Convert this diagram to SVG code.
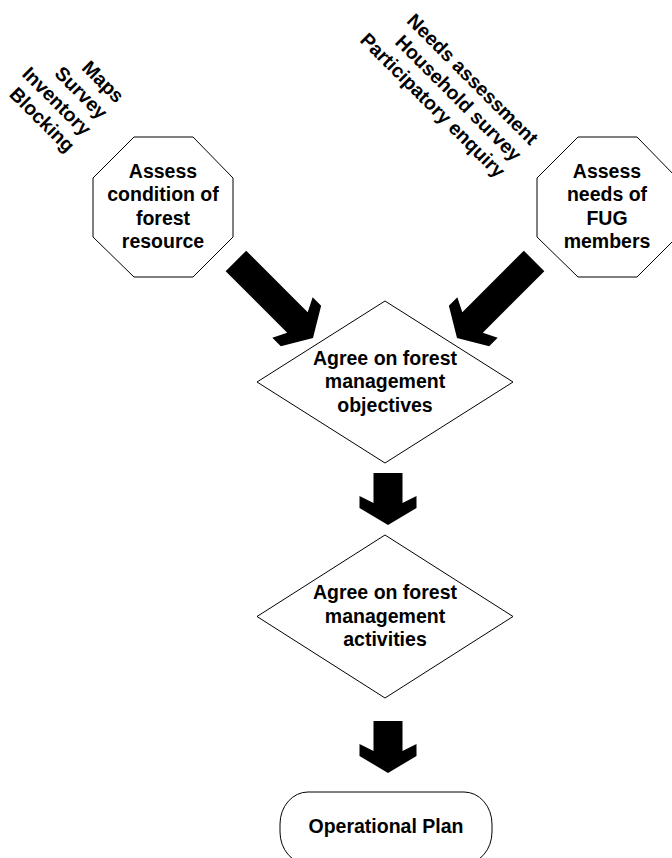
<svg xmlns="http://www.w3.org/2000/svg" xmlns:xlink="http://www.w3.org/1999/xlink" width="672" height="858" viewBox="0 0 672 858">
  <style>
    .shape { fill: #ffffff; stroke: #000000; stroke-width: 1; }
    .lbl { font-family: "Liberation Sans", Arial, sans-serif; font-weight: bold; font-size: 19.5px; fill: #000000; text-anchor: middle; }
    .rot { font-family: "Liberation Sans", Arial, sans-serif; font-weight: bold; font-size: 19.5px; fill: #000000; text-anchor: end; }
    .arrow { fill: #000000; stroke: none; }
  </style>
  <defs>
    <path id="arrowShort" d="M-14.5,-52 L14.5,-52 L14.5,-22 L28.5,-29 L28.5,-17 L0,0 L-28.5,-17 L-28.5,-29 L-14.5,-22 Z"/>
    <path id="arrowLong" d="M-14.5,-109 L14.5,-109 L14.5,-22 L28.5,-29 L28.5,-17 L0,0 L-28.5,-17 L-28.5,-29 L-14.5,-22 Z"/>
  </defs>
  <rect width="672" height="858" fill="#ffffff"/>

  <g id="methods-left">
    <g transform="translate(116,104) rotate(45)">
      <text class="rot" x="0" y="0">Maps</text>
      <text class="rot" x="0" y="23.3">Survey</text>
      <text class="rot" x="0" y="46.6">Inventory</text>
      <text class="rot" x="0" y="69.9">Blocking</text>
    </g>
  </g>

  <g id="methods-right">
    <g transform="translate(530,146) rotate(45)">
      <text class="rot" x="0" y="0">Needs assessment</text>
      <text class="rot" x="0" y="23.3">Household survey</text>
      <text class="rot" x="0" y="46.6">Participatory enquiry</text>
    </g>
  </g>

  <g id="assess-forest">
    <polygon class="shape" points="134,137 193,137 233,178 233,237 193,277 134,277 93,237 93,178"/>
    <text class="lbl" x="163" y="178">Assess</text>
    <text class="lbl" x="163" y="201.3">condition of</text>
    <text class="lbl" x="163" y="224.6">forest</text>
    <text class="lbl" x="163" y="248">resource</text>
  </g>

  <g id="assess-needs">
    <polygon class="shape" points="578,137 637,137 677,178 677,237 637,277 578,277 537,237 537,178"/>
    <text class="lbl" x="607" y="178">Assess</text>
    <text class="lbl" x="607" y="201.3">needs of</text>
    <text class="lbl" x="607" y="224.6">FUG</text>
    <text class="lbl" x="607" y="248">members</text>
  </g>

  <g id="objectives">
    <polygon class="shape" points="385,301 513,382 385,463 257,382"/>
    <text class="lbl" x="385" y="365">Agree on forest</text>
    <text class="lbl" x="385" y="388.3">management</text>
    <text class="lbl" x="385" y="411.6">objectives</text>
  </g>

  <g id="activities">
    <polygon class="shape" points="385,535 513,616.5 385,698 257,616.5"/>
    <text class="lbl" x="385" y="599">Agree on forest</text>
    <text class="lbl" x="385" y="622.5">management</text>
    <text class="lbl" x="385" y="646">activities</text>
  </g>

  <g id="operational-plan">
    <rect class="shape" x="280" y="792" width="212" height="72" rx="28" ry="32"/>
    <text class="lbl" x="386" y="833">Operational Plan</text>
  </g>

  <g id="connectors">
    <use xlink:href="#arrowLong" class="arrow" transform="translate(313,338) rotate(-45)"/>
    <use xlink:href="#arrowLong" class="arrow" transform="translate(457,338) rotate(45)"/>
    <use xlink:href="#arrowShort" class="arrow" transform="translate(388,525)"/>
    <use xlink:href="#arrowShort" class="arrow" transform="translate(388,773)"/>
  </g>
</svg>
